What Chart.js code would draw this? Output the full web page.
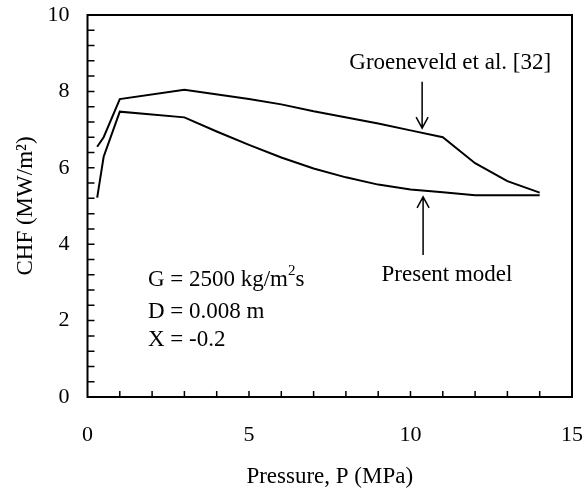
<!DOCTYPE html>
<html>
<head>
<meta charset="utf-8">
<script src="https://cdn.jsdelivr.net/npm/chart.js@4.4.1/dist/chart.umd.min.js"></script>
<style>
  body { margin: 0; background: #fff; }
  #wrap { width: 584px; height: 493px; }
</style>
</head>
<body>
<div id="wrap"><canvas id="myChart" width="584" height="493"></canvas></div>
<script>
// pressure (MPa) and CHF (MW/m2) for both curves
var groenP = [0.3, 0.5, 1, 3, 5, 6, 7, 9, 10, 11, 12, 13, 14];
var groenCHF = [6.55, 6.8, 7.8, 8.04, 7.8, 7.66, 7.48, 7.16, 6.98, 6.8, 6.12, 5.65, 5.35];
var modelP = [0.3, 0.5, 1, 3, 4, 5, 6, 7, 8, 9, 10, 11, 12, 13, 14];
var modelCHF = [5.22, 6.29, 7.47, 7.32, 6.95, 6.6, 6.27, 5.98, 5.75, 5.56, 5.43, 5.36, 5.28, 5.28, 5.28];

var xTicks = [0, 5, 10, 15];
var yTicks = [0, 2, 4, 6, 8, 10];

var serif = "'Liberation Serif', 'Times New Roman', serif";

function toPoints(xs, ys) {
    var pts = [];
    for (let i = 0; i < xs.length; i++) pts.push({ x: xs[i], y: ys[i] });
    return pts;
}

// frame, inward ticks, arrows and the text notes
var extras = {
    id: 'extras',
    afterDraw: function(chart) {
        var ctx = chart.ctx;
        var a = chart.chartArea;
        var xs = chart.scales.x, ys = chart.scales.y;
        ctx.save();
        ctx.strokeStyle = '#000';
        ctx.lineWidth = 2;
        ctx.strokeRect(a.left, a.top, a.right - a.left, a.bottom - a.top);

        ctx.lineWidth = 1.5;
        ctx.beginPath();
        for (let v = 1; v < 15; v++) {
            var px = xs.getPixelForValue(v);
            ctx.moveTo(px, a.bottom);
            ctx.lineTo(px, a.bottom - 6);
        }
        for (let k = 1; k < 25; k++) {
            var py = ys.getPixelForValue(k * 0.4);
            ctx.moveTo(a.left, py);
            ctx.lineTo(a.left + 7, py);
        }
        ctx.stroke();

        // arrows
        function arrow(xv, y0, y1) {
            var x = xs.getPixelForValue(xv);
            var p0 = ys.getPixelForValue(y0), p1 = ys.getPixelForValue(y1);
            var dir = p1 > p0 ? 1 : -1;
            ctx.lineWidth = 1.5;
            ctx.beginPath();
            ctx.moveTo(x, p0);
            ctx.lineTo(x, p1);
            ctx.moveTo(x - 6, p1 - dir * 11);
            ctx.lineTo(x, p1);
            ctx.lineTo(x + 6, p1 - dir * 11);
            ctx.stroke();
        }
        arrow(10.36, 8.25, 7.04);
        arrow(10.39, 3.72, 5.24);

        ctx.fillStyle = '#000';
        ctx.font = '23px ' + serif;
        ctx.textBaseline = 'middle';
        ctx.textAlign = 'center';
        ctx.fillText('Groeneveld et al. [32]', xs.getPixelForValue(11.23), ys.getPixelForValue(8.74));
        ctx.fillText('Present model', xs.getPixelForValue(11.13), ys.getPixelForValue(3.19));

        ctx.textAlign = 'left';
        var lx = xs.getPixelForValue(1.87);
        var gy = ys.getPixelForValue(3.06);
        var s1 = 'G = 2500 kg/m';
        ctx.fillText(s1, lx, gy);
        var w1 = ctx.measureText(s1).width;
        ctx.font = '15px ' + serif;
        ctx.fillText('2', lx + w1, gy - 9);
        var w2 = ctx.measureText('2').width;
        ctx.font = '23px ' + serif;
        ctx.fillText('s', lx + w1 + w2, gy);
        ctx.fillText('D = 0.008 m', lx, ys.getPixelForValue(2.23));
        ctx.fillText('X = -0.2', lx, ys.getPixelForValue(1.49));
        ctx.restore();
    }
};

var ctx = document.getElementById('myChart').getContext('2d');
var chart = new Chart(ctx, {
    type: 'line',
    data: {
        datasets: [{
            label: 'Groeneveld et al. [32]',
            data: toPoints(groenP, groenCHF),
            borderColor: '#000',
            borderWidth: 2,
            pointRadius: 0,
            tension: 0,
            fill: false
        }, {
            label: 'Present model',
            data: toPoints(modelP, modelCHF),
            borderColor: '#000',
            borderWidth: 2,
            pointRadius: 0,
            tension: 0,
            fill: false
        }]
    },
    options: {
        responsive: false,
        animation: false,
        events: [],
        layout: { padding: { left: 0, right: 12, top: 15, bottom: 0 } },
        plugins: { legend: { display: false }, tooltip: { enabled: false } },
        scales: {
            x: {
                type: 'linear',
                min: 0, max: 15,
                afterFit: function(s) {
                    s.height = 96;
                    s.paddingLeft = 0; s.paddingRight = 0;
                },
                afterBuildTicks: function(s) { s.ticks = xTicks.map(v => ({ value: v })); },
                grid: { display: false, drawTicks: false },
                border: { display: false },
                ticks: { color: '#000', padding: 25, font: { family: serif, size: 22 } },
                title: {
                    display: true, text: 'Pressure, P (MPa)', color: '#000',
                    font: { family: serif, size: 23 }, padding: { bottom: 2, top: 0 }
                }
            },
            y: {
                type: 'linear',
                min: 0, max: 10,
                afterFit: function(s) {
                    s.width = 87.5;
                    s.paddingTop = 0; s.paddingBottom = 0;
                },
                afterBuildTicks: function(s) { s.ticks = yTicks.map(v => ({ value: v })); },
                grid: { display: false, drawTicks: false },
                border: { display: false },
                ticks: { color: '#000', padding: 18, font: { family: serif, size: 22 } },
                title: {
                    display: true, text: 'CHF (MW/m²)', color: '#000',
                    font: { family: serif, size: 23 }, padding: { top: 12, bottom: 0 }
                }
            }
        }
    },
    plugins: [extras]
});
</script>
</body>
</html>
